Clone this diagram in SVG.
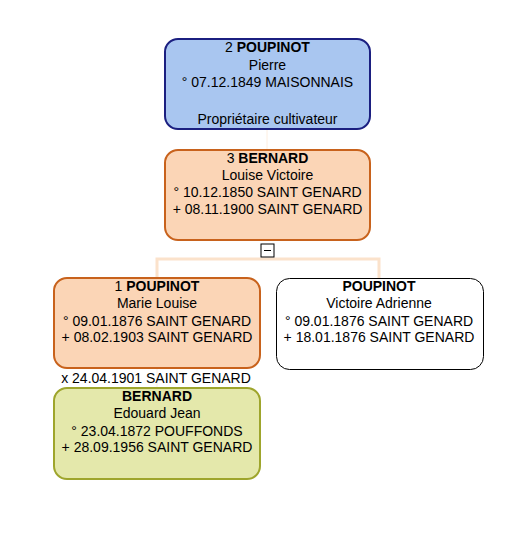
<svg xmlns="http://www.w3.org/2000/svg" width="516" height="536" viewBox="0 0 516 536">
<style>
text{font-family:"Liberation Sans",Arial,sans-serif;font-size:14px;fill:#000;text-anchor:middle}
.b{font-weight:bold}
.conn{stroke:#fbe2cb;stroke-width:3;fill:none}
.faint{stroke:#fdeee0;stroke-width:1;fill:none}
.blue{fill:#a9c6f0;stroke:#1b1f80;stroke-width:2}
.orange{fill:#fbd5b6;stroke:#c8621c;stroke-width:2}
.white{fill:#fff;stroke:#000;stroke-width:1}
.green{fill:#e4e8ab;stroke:#9ea52c;stroke-width:2}
</style>
<rect width="516" height="536" fill="#fff"/>
<g id="connectors">
<line class="faint" x1="267" y1="129" x2="267" y2="150"/>
<path class="conn" d="M157,278 V259 H379 V278"/>
<line class="faint" x1="157" y1="368" x2="157" y2="388"/>
<rect x="261" y="244" width="13" height="13" fill="#fff" stroke="#000" stroke-width="1"/>
<line x1="264" y1="250.5" x2="271" y2="250.5" stroke="#000" stroke-width="1"/>
</g>
<g id="n2">
<rect class="blue" x="165" y="39" width="205" height="90" rx="13"/>
<text x="267.5" y="52">2 <tspan class="b">POUPINOT</tspan></text>
<text x="267.5" y="69.5">Pierre</text>
<text x="267.5" y="87">° 07.12.1849 MAISONNAIS</text>
<text x="267.5" y="124">Propriétaire cultivateur</text>
</g>
<g id="n3">
<rect class="orange" x="165" y="150" width="205" height="90" rx="13"/>
<text x="267.5" y="163">3 <tspan class="b">BERNARD</tspan></text>
<text x="267.5" y="180">Louise Victoire</text>
<text x="267.5" y="197">° 10.12.1850 SAINT GENARD</text>
<text x="267.5" y="213.5">+ 08.11.1900 SAINT GENARD</text>
</g>
<g id="n1">
<rect class="orange" x="54" y="278" width="206" height="90" rx="13"/>
<text x="157" y="291">1 <tspan class="b">POUPINOT</tspan></text>
<text x="157" y="308">Marie Louise</text>
<text x="157" y="325.5">° 09.01.1876 SAINT GENARD</text>
<text x="157" y="342">+ 08.02.1903 SAINT GENARD</text>
</g>
<g id="nv">
<rect class="white" x="276.5" y="278.5" width="207" height="91" rx="13"/>
<text x="379" y="291" class="b">POUPINOT</text>
<text x="379" y="308">Victoire Adrienne</text>
<text x="379" y="325.5">° 09.01.1876 SAINT GENARD</text>
<text x="379" y="342">+ 18.01.1876 SAINT GENARD</text>
</g>
<g id="marriage">
<text x="156" y="383">x 24.04.1901 SAINT GENARD</text>
</g>
<g id="nb">
<rect class="green" x="54" y="388" width="206" height="91" rx="13"/>
<text x="157" y="401" class="b">BERNARD</text>
<text x="157" y="418">Edouard Jean</text>
<text x="157" y="435.5">° 23.04.1872 POUFFONDS</text>
<text x="157" y="452">+ 28.09.1956 SAINT GENARD</text>
</g>
</svg>
